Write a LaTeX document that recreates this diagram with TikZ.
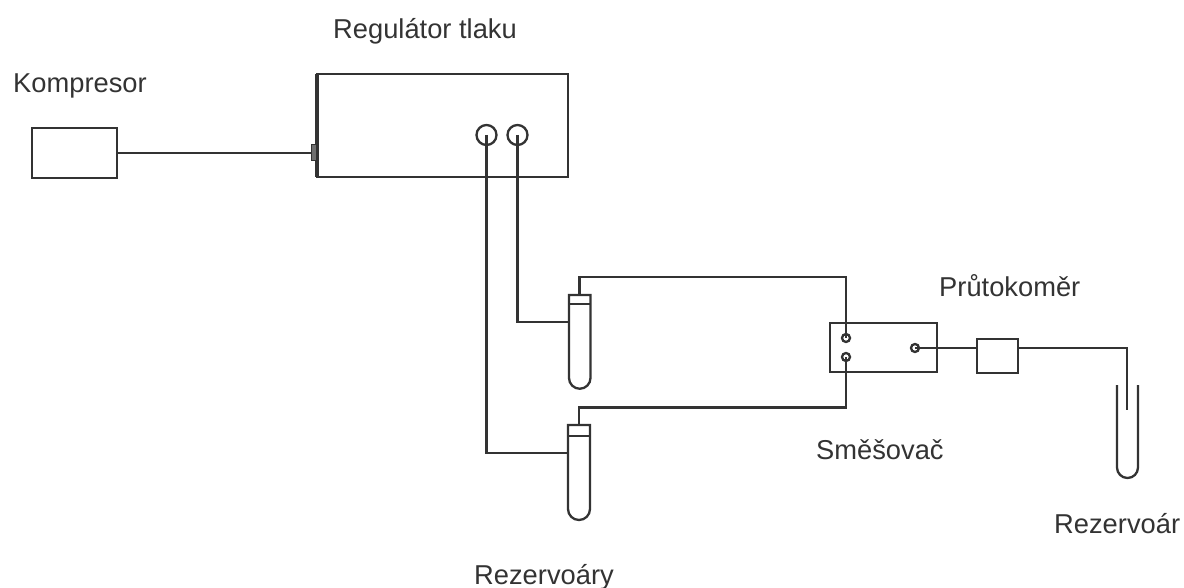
\documentclass[tikz,border=0pt]{standalone}
\usepackage{fontspec}
\setmainfont{Liberation Sans}
\definecolor{ink}{HTML}{333333}
\tikzset{
  box/.style={draw=ink,line width=2.3pt,fill=white,inner sep=0pt,outer sep=0pt,rectangle},
  port/.style={draw=ink,line width=2.3pt,circle,inner sep=0pt,outer sep=0pt,minimum size=#1},
  pipe/.style={draw=ink,line width=2.3pt,line join=miter},
  vessel/.style={draw=ink,line width=2.3pt},
  lab/.style={anchor=west,inner sep=0pt,text=ink,font=\fontsize{27.3}{32}\selectfont}
}
\begin{document}
\begin{tikzpicture}[x=1pt,y=-1pt]
\useasboundingbox (0,0) rectangle (1184,588);
% labels
\node[lab] (lreg) at (333,31) {Regulátor tlaku};
\node[lab] (lkom) at (13,86) {Kompresor};
\node[lab] (lpru) at (939,286) {Průtokoměr};
\node[lab] (lsme) at (816,450) {Směšovač};
\node[lab] (lrez) at (1054,524) {Rezervoár};
\node[lab] (lrzy) at (474,577) {Rezervoáry};
% boxes
\node[box,minimum width=85pt,minimum height=50pt] (komp) at (74.5,153) {};
\node[box,minimum width=251pt,minimum height=103pt] (reg) at (442.5,125.5) {};
\node[box,minimum width=107pt,minimum height=49pt] (mix) at (883.5,347.5) {};
\node[box,minimum width=41pt,minimum height=34pt] (flow) at (997.5,356) {};
% regulator details
\draw[ink,line width=3.5pt] (reg.north west) -- (reg.south west);
\node[draw=ink,fill=ink!70,line width=1pt,inner sep=0pt,minimum width=5pt,minimum height=16pt] (nub) at (313.5,153) {};
\node[port=20pt] (p1) at (486.5,135) {};
\node[port=20pt] (p2) at (517.5,135) {};
% mixer ports
\node[port=8pt] (m1) at (846,338) {};
\node[port=8pt] (m2) at (846,357) {};
\node[port=8pt] (m3) at (915,348) {};
% test tubes
\coordinate (t1a) at (569,295);
\coordinate (t1b) at (590.5,295);
\coordinate (t1top) at (579.5,295);
\coordinate (t1side) at (569,322);
\coordinate (t2a) at (568,425);
\coordinate (t2b) at (590,425);
\coordinate (t2top) at (579,425);
\coordinate (t2side) at (568,453);
\draw[vessel] (t1a) -- (t1b) -- (590.5,378) arc[start angle=0,end angle=180,x radius=10.75pt,y radius=-10.75pt] -- cycle;
\draw[vessel] (569,304) -- (590.5,304);
\draw[vessel] (t2a) -- (t2b) -- (590,509) arc[start angle=0,end angle=180,x radius=11pt,y radius=-11pt] -- cycle;
\draw[vessel] (568,436) -- (590,436);
% open reservoir
\coordinate (rdip) at (1127,410);
\draw[vessel] (1117,385) -- (1117,467.5) arc[start angle=180,end angle=360,x radius=10.5pt,y radius=10.5pt] -- (1138,385);
% connectors
\draw[pipe] (komp.east) -- (nub.west);
\draw[pipe] (p1.center) |- (t2side);
\draw[pipe] (p2.center) |- (t1side);
\draw[pipe] (t1top) |- (579.5,277) -| (m1.center);
\draw[pipe] (t2top) |- (579,407.5) -| (m2.center);
\draw[pipe] (m3.center) -- (m3.center -| flow.west);
\draw[pipe] (flow.east |- m3.center) -| (rdip);
\end{tikzpicture}
\end{document}
